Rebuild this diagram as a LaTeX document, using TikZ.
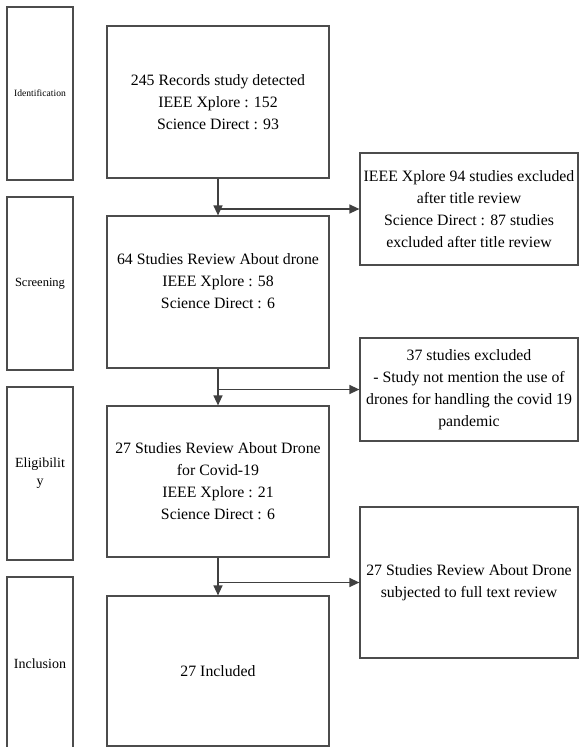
\documentclass[tikz,border=0pt]{standalone}
\usepackage{fontspec}
\setmainfont{Liberation Serif}
\usetikzlibrary{arrows.meta,positioning}
\tikzset{
  phase/.style={
    draw=black!70,
    line width=1.2pt,
    align=center,
    minimum width=66pt,
    minimum height=173pt,
    inner sep=2pt
  },
  box/.style={
    draw=black!70,
    line width=1.2pt,
    align=center,
    minimum width=222pt,
    inner sep=2pt,
    font=\fontsize{15.8}{22}\selectfont
  },
  side/.style={
    draw=black!70,
    line width=1.2pt,
    align=center,
    minimum width=218pt,
    inner sep=2pt,
    font=\fontsize{15.8}{22}\selectfont
  },
  arrow/.style={-{Triangle[length=10pt,width=9pt]}, line width=1.3pt, draw=black!75}
}

\begin{document}
\begin{tikzpicture}[x=1pt,y=-1pt]
\useasboundingbox (0,0) rectangle (580,747);

% Phases
\node[phase, font=\fontsize{9.6}{11}\selectfont] (ph_id) at (40,93.5) {Identification};
\node[phase, font=\fontsize{12.5}{15}\selectfont] (ph_scr) at (40,283.5) {Screening};
\node[phase, font=\fontsize{14}{18}\selectfont] (ph_elig) at (40,473.5) {Eligibilit\\y};
\node[phase, font=\fontsize{14}{18}\selectfont] (ph_incl) at (40,663.5) {Inclusion};

% Main flow
\node[box, minimum height=152pt] (detect) at (218,102) {245 Records study detected\\IEEE Xplore : 152\\Science Direct : 93};
\node[box, minimum height=152pt] (screen) at (218,292) {64 Studies Review About drone\\IEEE Xplore : 58\\Science Direct : 6\\\mbox{}};
\node[box, minimum height=151pt] (covid) at (218,481.5) {27 Studies Review About Drone\\for Covid-19\\IEEE Xplore : 21\\Science Direct : 6};
\node[box, minimum height=150pt] (incl) at (218,671) {27 Included};

% Exclusions
\node[side, minimum height=112pt] (excl_title) at (469,209) {IEEE Xplore 94 studies excluded\\after title review\\Science Direct : 87 studies\\excluded after title review};
\node[side, minimum height=103pt] (excl_covid) at (469,389.5) {37 studies excluded\\- Study not mention the use of\\drones for handling the covid 19\\pandemic};
\node[side, minimum height=151pt] (fulltext) at (469,582.5) {27 Studies Review About Drone\\subjected to full text review};

% Connections
\draw[arrow] (detect) -- (screen);
\draw[arrow] (screen) -- (covid);
\draw[arrow] (covid) -- (incl);

\draw[arrow] (detect.south |- excl_title.west) -- (excl_title.west);
\draw[arrow] (screen.south |- excl_covid.west) -- (excl_covid.west);
\draw[arrow] (covid.south |- fulltext.west) -- (fulltext.west);

\end{tikzpicture}
\end{document}
